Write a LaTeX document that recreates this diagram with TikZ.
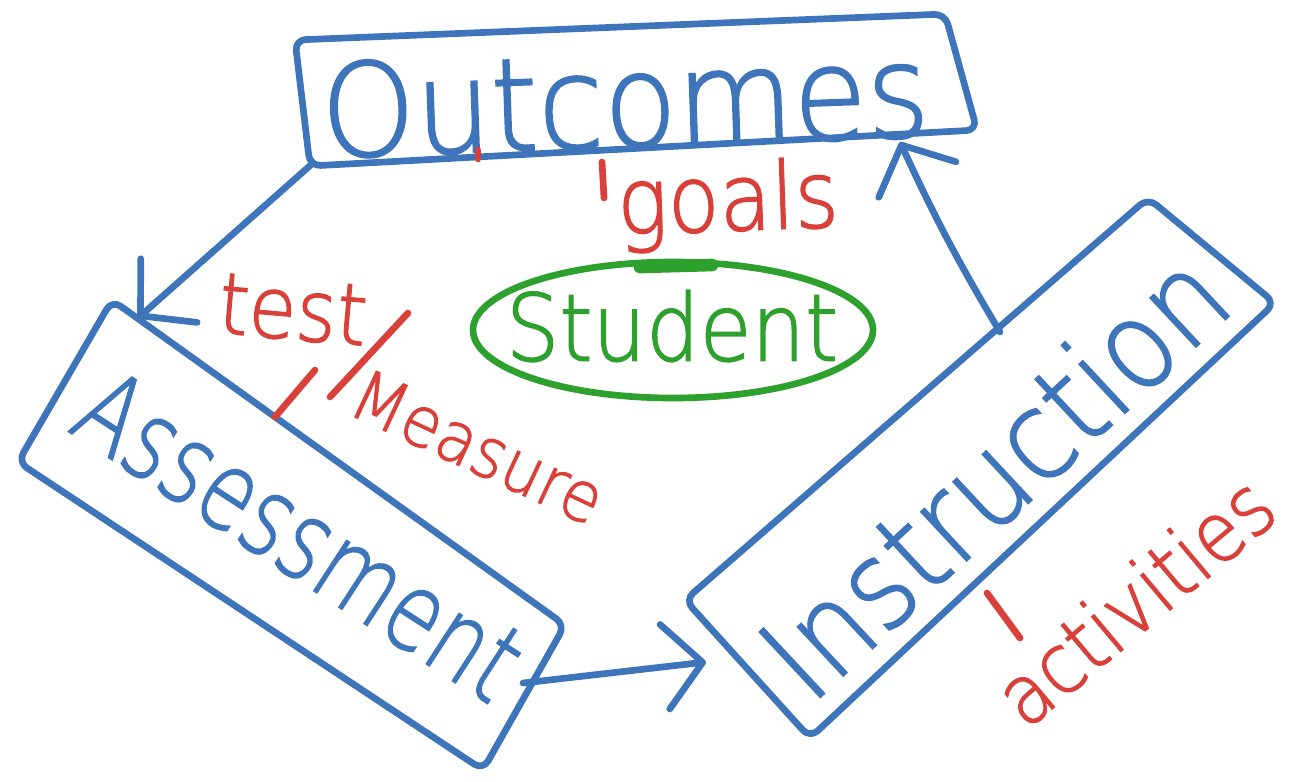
\documentclass[tikz,border=0pt]{standalone}
\usepackage{fontspec}
\newfontfamily\hand[FakeBold=1.6]{DejaVu Sans ExtraLight}
\usetikzlibrary{arrows.meta}
\definecolor{penblue}{RGB}{62,117,186}
\definecolor{penred}{RGB}{217,64,58}
\definecolor{pengreen}{RGB}{46,160,46}
\newcommand\penfont[1]{\hand\fontsize{#1}{#1}\selectfont}
\begin{document}
\begin{tikzpicture}[x=0.01cm,y=-0.01cm,
  pen/.style={line width=1.9pt, line cap=round, line join=round},
  boxline/.style={pen, draw=penblue, rounded corners=3pt},
  flow/.style={pen, draw=penblue,
    -{Straight Barb[length=0.38cm,width=0.85cm,line cap=round,line join=round]}},
  redmark/.style={pen, draw=penred},
  word/.style={inner sep=0pt, outer sep=0pt},
  blueword/.style={word, text=penblue},
  redword/.style={word, text=penred},
  greenword/.style={word, text=pengreen}]
\useasboundingbox (0,0) rectangle (1295,781);

% corners of the three hand-drawn boxes
\coordinate (o1) at (295,40);   \coordinate (o2) at (945,14);
\coordinate (o3) at (977,130);  \coordinate (o4) at (310,166);
\coordinate (a1) at (112,300);  \coordinate (a2) at (565,625);
\coordinate (a3) at (483,770);  \coordinate (a4) at (18,462);
\coordinate (i1) at (685,600);  \coordinate (i2) at (1148,198);
\coordinate (i3) at (1275,303); \coordinate (i4) at (810,738);

\draw[boxline] (o1) -- (o2) -- (o3) -- (o4) -- cycle;
\draw[boxline] (a1) -- (a2) -- (a3) -- (a4) -- cycle;
\draw[boxline] (i1) -- (i2) -- (i3) -- (i4) -- cycle;

% box captions
\node[blueword, font=\penfont{34}, rotate=2, yscale=1.08] (outcomes) at (625,100) {Outcomes};
\node[blueword, font=\penfont{24}, rotate=-33, yscale=1.3] (assessment) at (300,535) {Assessment};
\node[blueword, font=\penfont{31}, rotate=43, yscale=1.12] (instruction) at (993,474) {Instruction};

% cycle connectors
\coordinate (s1) at (313,163); \coordinate (t1) at (138,318);
\coordinate (s2) at (523,683); \coordinate (t2) at (706,662);
\coordinate (s3) at (1000,332); \coordinate (t3) at (900,142);
\draw[flow] (s1) -- (t1);
\draw[flow] (s2) -- (t2);
\draw[flow] (s3) to[bend left=3] (t3);

% centre
\draw[pen, draw=pengreen] (673,330) ellipse [x radius=200, y radius=68];
\draw[pen, draw=pengreen, line width=3.6pt] (640,267) -- (712,265);
\node[greenword, font=\penfont{24}, yscale=1.1] (student) at (672,326) {Student};

% red notes
\node[redword, font=\penfont{24}, rotate=2, yscale=1.1] (goals) at (728,205) {goals};
\draw[redmark] (602,162) -- (604,198);
\draw[redmark] (478,150) -- (478,159);
\node[redword, font=\penfont{22}, rotate=-5, yscale=1.1] (test) at (293,310) {test};
\draw[redmark] (408,313) -- (330,397);
\draw[redmark] (315,370) -- (275,417);
\node[redword, font=\penfont{18}, rotate=-25, yscale=1.1] (measure) at (478,447) {Measure};
\node[redword, font=\penfont{21}, rotate=40, yscale=1.12] (activities) at (1134,600) {activities};
\draw[redmark] (987,593) -- (1020,638);
\end{tikzpicture}
\end{document}
